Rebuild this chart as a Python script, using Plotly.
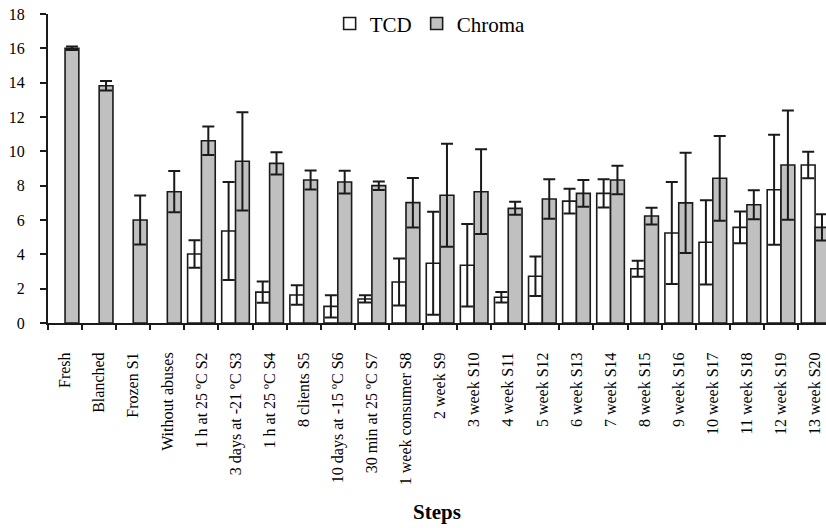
import plotly.graph_objects as go

categories = ["Fresh", "Blanched", "Frozen S1", "Without abuses", "1 h at 25 ºC S2",
              "3 days at -21 ºC S3", "1 h at 25 ºC S4", "8 clients S5", "10 days at -15 ºC S6",
              "30 min at 25 ºC S7", "1 week consumer S8", "2 week S9", "3 week S10",
              "4 week S11", "5 week S12", "6 week S13", "7 week S14", "8 week S15",
              "9 week S16", "10 week S17", "11 week S18", "12 week S19", "13 week S20"]

tcd = [None, None, None, None, 4.02, 5.36, 1.8, 1.63, 0.97, 1.4, 2.39, 3.48, 3.36,
       1.5, 2.72, 7.1, 7.55, 3.16, 5.24, 4.7, 5.57, 7.76, 9.2]
tcd_err = [0, 0, 0, 0, 0.8, 2.85, 0.62, 0.57, 0.65, 0.21, 1.37, 3.0, 2.4,
           0.3, 1.15, 0.72, 0.82, 0.47, 2.97, 2.45, 0.92, 3.2, 0.77]

chroma = [16.0, 13.82, 6.0, 7.65, 10.62, 9.42, 9.3, 8.33, 8.21, 8.0, 7.01, 7.44, 7.65,
          6.68, 7.22, 7.55, 8.33, 6.23, 7.0, 8.43, 6.89, 9.2, 5.57]
chroma_err = [0.1, 0.28, 1.42, 1.2, 0.83, 2.86, 0.65, 0.55, 0.66, 0.25, 1.44, 3.0, 2.47,
              0.38, 1.15, 0.78, 0.83, 0.49, 2.92, 2.47, 0.85, 3.18, 0.77]

font_family = "Liberation Serif"
ink = "#1a1a1a"

fig = go.Figure()
fig.add_trace(go.Bar(
    name="TCD", x=categories, y=tcd,
    marker=dict(color="white", line=dict(color=ink, width=1.6)),
    error_y=dict(type="data", array=tcd_err, color=ink, thickness=2, width=6),
))
fig.add_trace(go.Bar(
    name="Chroma", x=categories, y=chroma,
    marker=dict(color="#c0c0c0", line=dict(color=ink, width=1.6)),
    error_y=dict(type="data", array=chroma_err, color=ink, thickness=2, width=6),
))

fig.update_layout(
    width=826, height=528,
    barmode="group", bargap=0.19, bargroupgap=0,
    paper_bgcolor="white", plot_bgcolor="white",
    margin=dict(l=48, r=0, t=14, b=205, autoexpand=False),
    font=dict(family=font_family, size=16, color="black"),
    showlegend=True,
    legend=dict(orientation="h", x=0.362, y=0.968, xanchor="left", yanchor="middle",
                font=dict(size=21, family=font_family), bgcolor="rgba(0,0,0,0)",
                itemwidth=30, tracegroupgap=0),
    xaxis=dict(
        title=dict(text="<b>Steps</b>", font=dict(size=21, family=font_family), standoff=20),
        tickangle=-90, showline=True, linecolor=ink, linewidth=2,
        ticks="outside", tickson="boundaries", ticklen=5, tickcolor=ink, tickwidth=1.5,
        showgrid=False, tickfont=dict(size=16, family=font_family),
        range=[-0.5, 22.32], automargin=False, ticklabelstandoff=21,
        ticklabeloverflow="allow",
    ),
    yaxis=dict(
        range=[0, 18], dtick=2, showline=True, linecolor=ink, linewidth=2,
        ticks="outside", ticklen=6, tickcolor=ink, tickwidth=1.5,
        showgrid=False, zeroline=False, tickfont=dict(size=16, family=font_family),
        automargin=False, ticklabelstandoff=12, ticklabeloverflow="allow",
    ),
)

fig.write_html(
    "out.html",
    config={"displayModeBar": False},
    post_script="document.body.style.margin='0';document.body.style.overflow='hidden';",
)
